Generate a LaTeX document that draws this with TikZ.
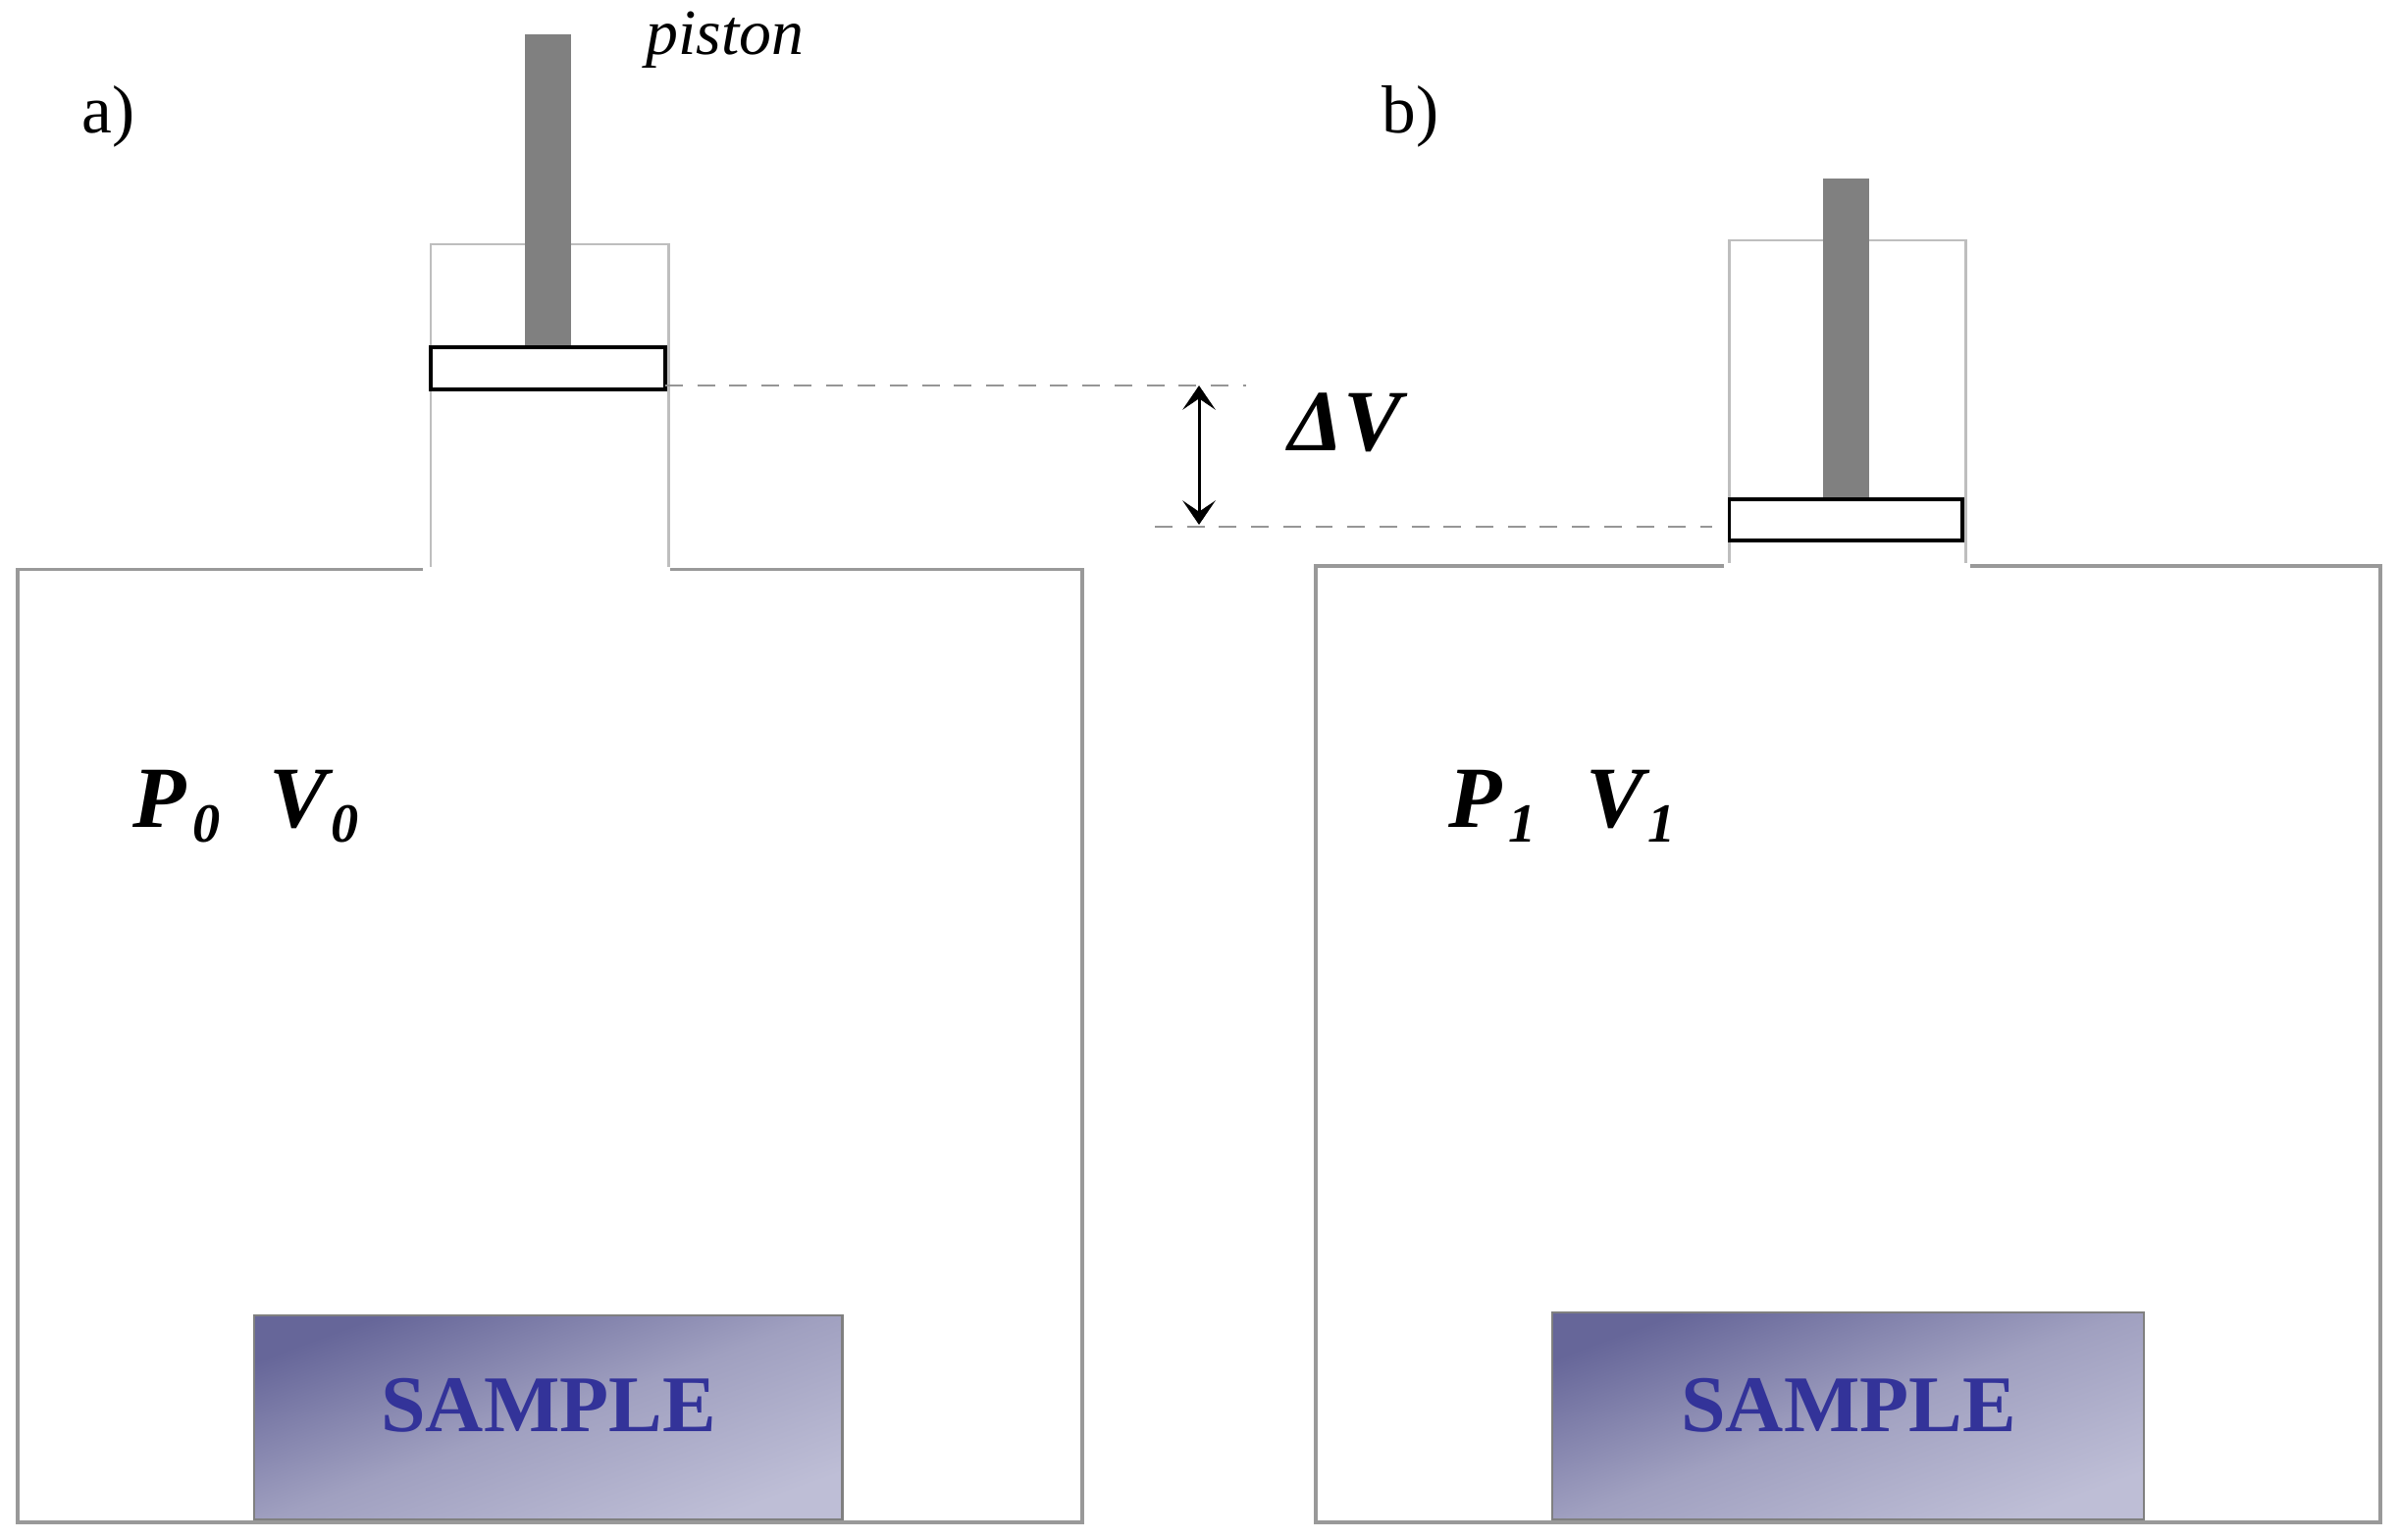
\documentclass[tikz,border=0pt]{standalone}
\usepackage{fontspec}
\setmainfont{Liberation Serif}
\usetikzlibrary{arrows.meta}
\newcommand{\quant}[3]{\fontsize{25.3}{30}\selectfont\bfseries\itshape #1\kern #3\raisebox{-4.3pt}{\fontsize{16}{18}\selectfont #2}}
\definecolor{wallgray}{HTML}{999999}
\definecolor{neckgray}{HTML}{BEBEBE}
\definecolor{rodgray}{HTML}{808080}
\definecolor{dashgray}{HTML}{969696}
\definecolor{sampledark}{HTML}{666699}
\definecolor{samplemid}{HTML}{A0A0C0}
\definecolor{samplelight}{HTML}{BEBED6}
\definecolor{sampleblue}{HTML}{333399}
\tikzset{
	wall/.style={draw=wallgray,line width=1pt},
	neck/.style={draw=neckgray,line width=0.85pt},
	rod/.style={fill=rodgray},
	plate/.style={draw=black,line width=1.1pt,fill=white},
	guide/.style={draw=dashgray,line width=0.85pt,dash pattern=on 5.1pt off 4.2pt},
	samplebox/.style={draw=rodgray,line width=0.75pt,top color=sampledark,bottom color=samplelight,middle color=samplemid,shading angle=20},
	samplelabel/.style={inner sep=0,anchor=base,text=sampleblue,font=\fontsize{23.3}{26}\selectfont\bfseries},
	caption/.style={inner sep=0,anchor=base west,font=\fontsize{19.7}{22}\selectfont},
	symbol/.style={inner sep=0,anchor=base west},
}
\begin{document}
\begin{tikzpicture}[x=0.01cm,y=-0.01cm]
	\useasboundingbox (0,0) rectangle (2445,1570);

	% cell a
	\coordinate (Atop) at (678,393);
	\draw [wall] (431,580.5) -- (18,580.5) -- (18,1552) -- (1103,1552) -- (1103,580.5) -- (683,580.5);
	\draw [neck] (439,578) -- (439,249) -- (681,249) -- (681,578);
	\fill [rod] (535,35) rectangle (582,354);
	\draw [plate] (439,354) rectangle (678,397);
	\draw [samplebox] (259,1341) rectangle (858.5,1549);

	% cell b
	\coordinate (Bside) at (1745,537);
	\draw [wall] (1757,577) -- (1341,577) -- (1341,1552) -- (2426,1552) -- (2426,577) -- (2008,577);
	\draw [neck] (1762.5,574) -- (1762.5,245) -- (2003,245) -- (2003,574);
	\fill [rod] (1858,182) rectangle (1904.5,509);
	\draw [plate] (1762.5,509) rectangle (2000,551);
	\draw [samplebox] (1582,1338) rectangle (2185,1549);

	% volume change
	\coordinate (Aend) at (1270,393);
	\coordinate (Bend) at (1177,537);
	\coordinate (Up) at (1222,393);
	\coordinate (Down) at (1222,535);
	\draw [guide] (Atop) -- (Aend);
	\draw [guide] (Bend) -- (Bside);
	\draw [{Stealth[length=7pt,width=9.5pt,inset=3.2pt]}-{Stealth[length=7pt,width=9.5pt,inset=3.2pt]},line width=0.85pt] (Up) -- (Down);

	% labels
	\node [caption,font=\fontsize{18.7}{22}\selectfont] (piston) at (658,56) {\itshape piston};
	\node [caption] (a) at (83,136) {a)};
	\node [caption] (b) at (1408,136) {b)};
	\node [symbol] (P0) at (135,843) {\quant{P}{0}{1.7pt}};
	\node [symbol] (V0) at (274,843) {\quant{V}{0}{0.9pt}};
	\node [symbol] (P1) at (1476,843) {\quant{P}{1}{1.7pt}};
	\node [symbol] (V1) at (1616,843) {\quant{V}{1}{0.9pt}};
	\node [symbol] (dV) at (1313,459) {\fontsize{25.3}{30}\selectfont\bfseries\itshape ΔV};
	\node [samplelabel] (sa) at (559,1459) {SAMPLE};
	\node [samplelabel] (sb) at (1884,1459) {SAMPLE};
\end{tikzpicture}
\end{document}
